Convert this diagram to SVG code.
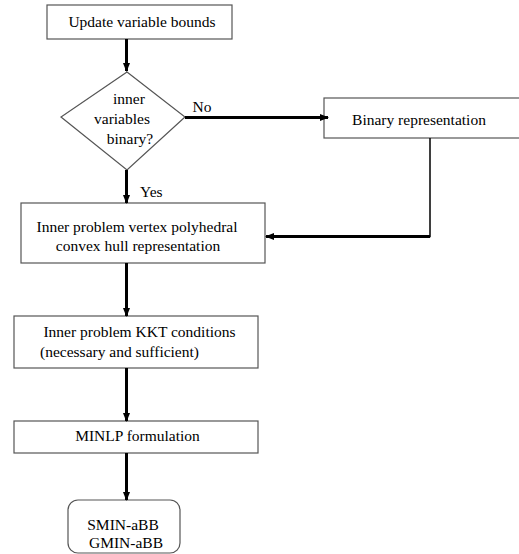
<svg xmlns="http://www.w3.org/2000/svg" width="519" height="554" viewBox="0 0 519 554">
<style>
.box{fill:#fff;stroke:#555;stroke-width:1.2}
.t{font-family:'Liberation Serif','Times New Roman','DejaVu Serif',serif;font-size:15.5px;fill:#000;text-anchor:middle}
.tl{font-family:'Liberation Serif','Times New Roman','DejaVu Serif',serif;font-size:15.5px;fill:#000}
.thick{fill:none;stroke:#000;stroke-width:3}
.thin{fill:none;stroke:#000;stroke-width:1.5}
</style>
<defs>
<marker id="ah" markerUnits="userSpaceOnUse" markerWidth="9" markerHeight="7" refX="8" refY="3.5" orient="auto">
<path d="M0,0 L9,3.5 L0,7 z" fill="#000"/>
</marker>
</defs>
<rect width="519" height="554" fill="#fff"/>
<g id="n-update">
<rect class="box" x="47" y="5" width="185" height="34"/>
<text class="t" x="142" y="27">Update variable bounds</text>
</g>
<g id="n-decision">
<polygon class="box" points="127,72 185,117 127,170 61,117"/>
<text class="t" x="129" y="104">inner</text>
<text class="t" x="122" y="124">variables</text>
<text class="t" x="130" y="144">binary?</text>
</g>
<g id="n-binary">
<rect class="box" x="324" y="98" width="200" height="40"/>
<text class="t" x="419" y="124.5">Binary representation</text>
</g>
<g id="n-hull">
<rect class="box" x="21" y="203" width="244" height="60"/>
<text class="t" x="137" y="232">Inner problem vertex polyhedral</text>
<text class="t" x="138" y="250.5">convex hull representation</text>
</g>
<g id="n-kkt">
<rect class="box" x="14" y="316" width="244" height="52"/>
<text class="t" x="139.5" y="337">Inner problem KKT conditions</text>
<text class="t" x="119.5" y="357">(necessary and sufficient)</text>
</g>
<g id="n-minlp">
<rect class="box" x="14" y="421" width="244" height="32"/>
<text class="t" x="137.5" y="440.5">MINLP formulation</text>
</g>
<g id="n-solvers">
<rect class="box" x="68" y="500" width="112" height="53" rx="10" ry="10"/>
<text class="t" x="123" y="530">SMIN-aBB</text>
<text class="t" x="126" y="547.5">GMIN-aBB</text>
</g>
<g id="connectors">
<line class="thick" x1="126.5" y1="39" x2="126.5" y2="71" marker-end="url(#ah)"/>
<line class="thick" x1="185" y1="117.5" x2="328" y2="117.5" marker-end="url(#ah)"/>
<text class="tl" x="192.5" y="112">No</text>
<line class="thick" x1="126.5" y1="170" x2="126.5" y2="203" marker-end="url(#ah)"/>
<text class="tl" x="140" y="197">Yes</text>
<polyline class="thin" points="430,138 430,236.5 300,236.5"/>
<line class="thick" x1="430" y1="236.5" x2="266" y2="236.5" marker-end="url(#ah)"/>
<line class="thick" x1="126.5" y1="263" x2="126.5" y2="316" marker-end="url(#ah)"/>
<line class="thick" x1="126.5" y1="368" x2="126.5" y2="421" marker-end="url(#ah)"/>
<line class="thick" x1="126.5" y1="453" x2="126.5" y2="500" marker-end="url(#ah)"/>
</g>
</svg>
